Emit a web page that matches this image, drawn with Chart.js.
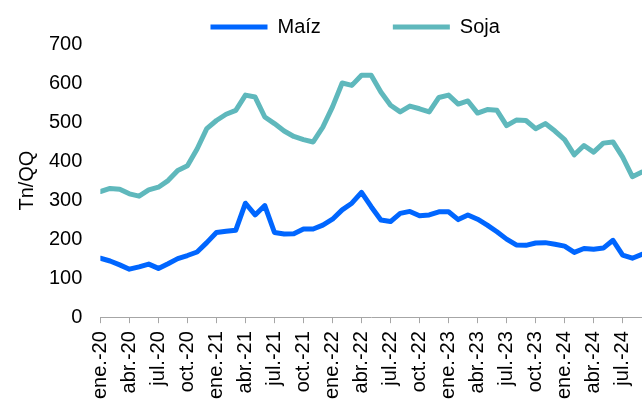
<!DOCTYPE html>
<html lang="es">
<head>
<meta charset="utf-8">
<title>Maíz y Soja</title>
<script src="https://cdn.jsdelivr.net/npm/chart.js@4.4.1/dist/chart.umd.min.js"></script>
<style>
  html, body { margin: 0; padding: 0; background: #fff; }
  #caja { width: 642px; height: 400px; }
</style>
</head>
<body>
<div id="caja"><canvas id="grafico"></canvas></div>
<script>
// Etiquetas del eje X (una cada 3 meses, desde ene.-20)
const etiquetas = ['ene.-20', 'abr.-20', 'jul.-20', 'oct.-20', 'ene.-21', 'abr.-21', 'jul.-21', 'oct.-21',
    'ene.-22', 'abr.-22', 'jul.-22', 'oct.-22', 'ene.-23', 'abr.-23', 'jul.-23', 'oct.-23',
    'ene.-24', 'abr.-24', 'jul.-24'];

// Precios mensuales (Tn/QQ), ene.-20 a sep.-24
const maiz = [151, 144, 134, 123, 129, 136, 125, 137, 150, 158, 167, 191,
    217, 220, 223, 292, 262, 286, 217, 213, 214, 226, 226, 236,
    251, 275, 292, 320, 283, 249, 245, 266, 271, 260, 262, 270,
    270, 250, 262, 251, 236, 219, 200, 185, 184, 190, 191, 187,
    182, 166, 176, 174, 177, 197, 159, 151, 161];

const soja = [322, 330, 328, 316, 310, 326, 333, 350, 376, 388, 431, 483,
    504, 520, 530, 569, 564, 513, 496, 477, 463, 455, 449, 487,
    539, 600, 594, 620, 620, 577, 543, 526, 541, 534, 526, 563,
    569, 546, 554, 523, 532, 530, 491, 505, 504, 483, 496, 477,
    455, 416, 440, 423, 446, 449, 410, 360, 372];

const ticksY = [0, 100, 200, 300, 400, 500, 600, 700];

// Convierte una serie en puntos {x: mes, y: valor}
function aPuntos(serie) {
    return serie.map((v, i) => ({ x: i, y: v }));
}

// Corre la leyenda un poco, como en el original
const moverLeyenda = {
    id: 'moverLeyenda',
    afterLayout(chart, args, opts) {
        chart.legend.left += opts.dx;
        chart.legend.right += opts.dx;
        chart.legend.top += opts.dy;
        chart.legend.bottom += opts.dy;
    }
};

Chart.defaults.font.family = "'Liberation Sans', Arial, sans-serif";
Chart.defaults.font.size = 20;
Chart.defaults.color = '#000';

const ctx = document.getElementById('grafico').getContext('2d');

const data = {
    datasets: [{
        label: 'Maíz',
        data: aPuntos(maiz),
        borderColor: '#0066ff',
        backgroundColor: '#0066ff',
        borderWidth: 5,
        borderCapStyle: 'round',
        borderJoinStyle: 'round',
        pointRadius: 0,
        tension: 0
    }, {
        label: 'Soja',
        data: aPuntos(soja),
        borderColor: '#5fb8bc',
        backgroundColor: '#5fb8bc',
        borderWidth: 5,
        borderCapStyle: 'round',
        borderJoinStyle: 'round',
        pointRadius: 0,
        tension: 0
    }]
};

const options = {
    responsive: true,
    maintainAspectRatio: false,
    animation: false,
    layout: { padding: { left: 11, top: -58, right: 0, bottom: -7 } },
    plugins: {
        tooltip: { enabled: false },
        moverLeyenda: { dx: -16, dy: 3 },
        legend: {
            position: 'top',
            fullSize: false,
            labels: {
                usePointStyle: true,
                pointStyle: 'line',
                pointStyleWidth: 57,
                padding: 72,
                color: '#000',
                font: { size: 20 }
            }
        }
    },
    scales: {
        x: {
            type: 'linear',
            min: 0,
            max: maiz.length - 1,
            grid: {
                display: true,
                drawOnChartArea: false,
                drawTicks: true,
                tickLength: 6,
                color: '#a6a6a6'
            },
            border: { display: true, color: '#a6a6a6', width: 1 },
            ticks: {
                stepSize: 3,
                includeBounds: false,
                autoSkip: false,
                minRotation: 90,
                maxRotation: 90,
                padding: 8,
                callback: (v) => etiquetas[v / 3]
            },
            // el gráfico llega hasta el borde derecho
            afterFit(scale) {
                scale.paddingLeft = 0;
                scale.paddingRight = 0;
            }
        },
        y: {
            min: ticksY[0],
            max: ticksY[ticksY.length - 1],
            grid: { display: false, drawTicks: false },
            border: { display: false },
            ticks: { stepSize: 100, padding: 18 },
            title: {
                display: true,
                text: 'Tn/QQ',
                font: { size: 20 },
                padding: { top: 4, bottom: -8 }
            }
        }
    }
};

new Chart(ctx, { type: 'line', data: data, options: options, plugins: [moverLeyenda] });
</script>
</body>
</html>
